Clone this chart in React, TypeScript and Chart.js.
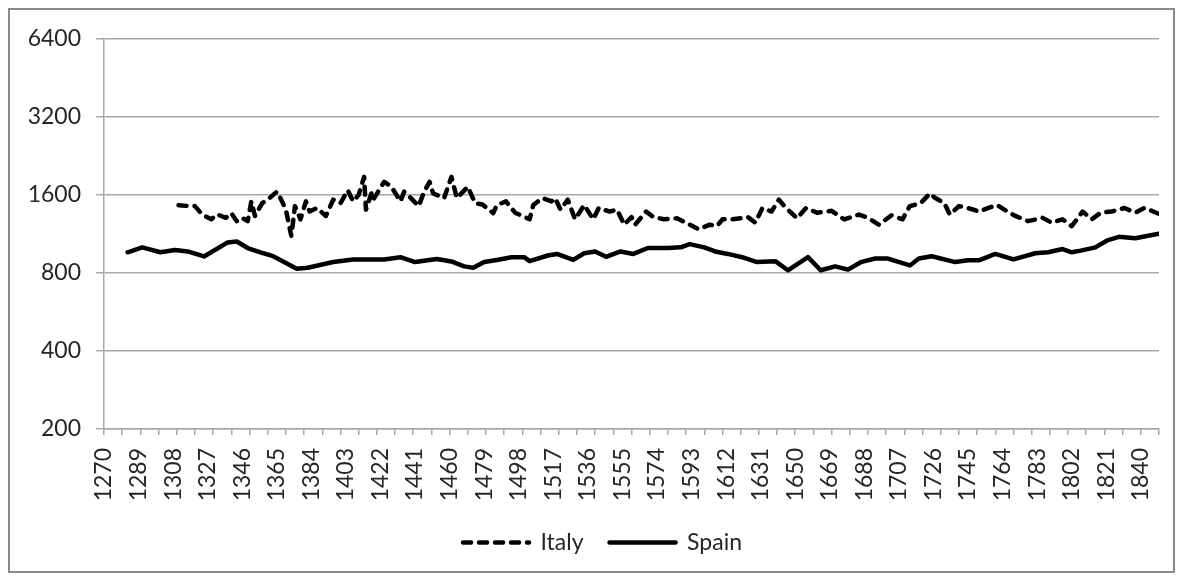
import React, { useEffect, useRef } from 'react';
import { Chart, registerables } from 'chart.js';

Chart.register(...registerables);

// Spain series (year, value)
const spainYears = [
  1283, 1291, 1301, 1309, 1316, 1325, 1338, 1343, 1349, 1356, 1363, 1376, 1382, 1396, 1407,
  1424, 1433, 1441, 1453, 1461, 1468, 1473, 1479, 1486, 1494, 1501, 1504, 1514, 1519, 1528,
  1534, 1540, 1546, 1554, 1561, 1569, 1580, 1587, 1592, 1600, 1606, 1613, 1622, 1629, 1639,
  1646, 1657, 1664, 1672, 1679, 1686, 1694, 1701, 1713, 1718, 1725, 1738, 1745, 1751, 1760,
  1770, 1782, 1789, 1797, 1802, 1807, 1815, 1822, 1828, 1837, 1844, 1850,
];
const spainValues = [
  961, 1004, 961, 981, 968, 926, 1049, 1058, 998, 961, 928, 831, 838, 881, 902,
  902, 920, 881, 906, 886, 848, 838, 881, 898, 920, 920, 888, 934, 947, 898,
  953, 968, 923, 968, 947, 998, 998, 1004, 1033, 1004, 968, 947, 915, 881, 888,
  819, 920, 819, 848, 824, 880, 909, 909, 855, 909, 928, 881, 895, 895, 947,
  902, 953, 961, 989, 961, 975, 1004, 1071, 1102, 1088, 1113, 1134,
];

// Italy series (year, value)
const italyYears = [
  1311, 1316, 1320, 1324, 1329, 1332, 1337, 1340, 1343, 1346, 1349, 1351, 1353, 1357, 1361,
  1365, 1367, 1370, 1372, 1373, 1375, 1378, 1381, 1383, 1387, 1392, 1396, 1400, 1404, 1407,
  1410, 1413, 1414, 1417, 1418, 1424, 1428, 1433, 1435, 1437, 1443, 1446, 1449, 1451, 1457,
  1461, 1464, 1470, 1474, 1478, 1484, 1486, 1491, 1496, 1504, 1506, 1511, 1516, 1518, 1521,
  1525, 1529, 1534, 1539, 1542, 1548, 1552, 1556, 1560, 1562, 1568, 1572, 1578, 1585, 1592,
  1597, 1603, 1607, 1610, 1615, 1620, 1624, 1628, 1632, 1637, 1641, 1645, 1651, 1656, 1662,
  1670, 1677, 1685, 1690, 1696, 1703, 1709, 1713, 1719, 1724, 1727, 1732, 1735, 1740, 1745,
  1751, 1756, 1761, 1765, 1771, 1778, 1786, 1791, 1797, 1802, 1808, 1813, 1818, 1824, 1831,
  1837, 1842, 1850,
];
const italyValues = [
  1460, 1450, 1448, 1343, 1288, 1347, 1305, 1360, 1267, 1305, 1267, 1510, 1327, 1487, 1555,
  1646, 1555, 1403, 1196, 1112, 1448, 1288, 1510, 1380, 1424, 1327, 1533, 1487, 1667, 1510,
  1600, 1877, 1403, 1620, 1533, 1796, 1720, 1510, 1646, 1600, 1448, 1646, 1796, 1620, 1555,
  1877, 1555, 1720, 1487, 1470, 1360, 1462, 1510, 1366, 1288, 1462, 1555, 1510, 1555, 1403,
  1533, 1288, 1462, 1288, 1424, 1380, 1403, 1228, 1314, 1228, 1380, 1314, 1288, 1300, 1228,
  1179, 1228, 1212, 1288, 1288, 1300, 1314, 1250, 1424, 1380, 1533, 1424, 1300, 1424, 1366,
  1389, 1288, 1343, 1305, 1228, 1335, 1288, 1448, 1487, 1620, 1555, 1487, 1343, 1448, 1424,
  1380, 1424, 1462, 1403, 1327, 1267, 1305, 1250, 1288, 1212, 1380, 1288, 1366, 1380, 1424,
  1366, 1424, 1352,
];

const yTickValues = [200, 400, 800, 1600, 3200, 6400];
const xLabelYears = [
  1270, 1289, 1308, 1327, 1346, 1365, 1384, 1403, 1422, 1441, 1460, 1479, 1498, 1517, 1536, 1555,
  1574, 1593, 1612, 1631, 1650, 1669, 1688, 1707, 1726, 1745, 1764, 1783, 1802, 1821, 1840,
];
const xTickMarkYears = [
  1270, 1280, 1290, 1300, 1310, 1320, 1330, 1340, 1350, 1360, 1370, 1380, 1390, 1400, 1410,
  1420, 1430, 1440, 1450, 1460, 1470, 1480, 1490, 1500, 1510, 1520, 1530, 1540, 1550, 1560,
  1570, 1580, 1590, 1600, 1610, 1620, 1630, 1640, 1650, 1660, 1670, 1680, 1690, 1700, 1710,
  1720, 1730, 1740, 1750, 1760, 1770, 1780, 1790, 1800, 1810, 1820, 1830, 1840, 1850,
];
const X_MIN = 1270;
const X_MAX = 1850;

const FONT = 'Lato, "Open Sans", sans-serif';
const TEXT = '#262626';
const GRID = '#a8a8a8';
const LINE_W = 4.5;
const FONT_SIZE = 23;

const legendShift = {
  id: 'legendShift',
  afterLayout(chart: any) {
    if (chart.legend) {
      chart.legend.left += 36;
    }
  },
};

export default function App() {
  const ref = useRef<HTMLCanvasElement>(null);

  useEffect(() => {
    if (!ref.current) return;
    const italy = italyYears.map((x, i) => ({ x, y: italyValues[i] }));
    const spain = spainYears.map((x, i) => ({ x, y: spainValues[i] }));
    const allXTicks = Array.from(new Set([...xTickMarkYears, ...xLabelYears])).sort((a, b) => a - b);

    const chart = new Chart(ref.current, {
      type: 'line',
      data: {
        datasets: [
          {
            label: 'Italy',
            data: italy,
            borderColor: '#000',
            backgroundColor: '#000',
            borderWidth: LINE_W,
            borderDash: [8, 8],
            borderCapStyle: 'round',
            borderJoinStyle: 'round',
            pointRadius: 0,
            tension: 0,
            fill: false,
          },
          {
            label: 'Spain',
            data: spain,
            borderColor: '#000',
            backgroundColor: '#000',
            borderWidth: LINE_W,
            borderCapStyle: 'round',
            borderJoinStyle: 'round',
            pointRadius: 0,
            tension: 0,
            fill: false,
          },
        ],
      },
      options: {
        responsive: false,
        maintainAspectRatio: false,
        animation: false,
        layout: { padding: { left: 0, right: 14, top: 27, bottom: 7 } },
        plugins: {
          legend: {
            position: 'bottom',
            labels: {
              usePointStyle: true,
              pointStyle: 'line',
              pointStyleWidth: 66,
              boxWidth: 66,
              padding: 26,
              color: TEXT,
              font: { family: FONT, size: FONT_SIZE },
              generateLabels: (c: any) => {
                const items = Chart.defaults.plugins.legend.labels.generateLabels(c);
                items.forEach((it: any, i: number) => {
                  const ds: any = c.data.datasets[i];
                  it.lineDash = ds.borderDash || [];
                  it.lineWidth = LINE_W;
                  it.strokeStyle = '#000';
                  it.lineCap = 'round';
                  it.pointStyle = 'line';
                });
                return items;
              },
            },
          },
          tooltip: { enabled: false },
        },
        scales: {
          x: {
            type: 'linear',
            min: X_MIN,
            max: X_MAX,
            afterBuildTicks: (s: any) => {
              s.ticks = allXTicks.map((v) => ({ value: v }));
            },
            afterFit: (s: any) => {
              s.height = 76;
              s.paddingLeft = 0;
              s.paddingRight = 0;
            },
            ticks: {
              autoSkip: false,
              minRotation: 90,
              maxRotation: 90,
              padding: 13,
              color: TEXT,
              font: { family: FONT, size: FONT_SIZE },
              callback: (v: any) => (xLabelYears.includes(Number(v)) ? String(v) : ''),
            },
            grid: {
              drawOnChartArea: false,
              drawTicks: true,
              tickLength: 6,
              lineWidth: 1.5,
              color: (ctx: any) =>
                ctx.tick && xTickMarkYears.includes(ctx.tick.value) ? GRID : 'rgba(0,0,0,0)',
            },
            border: { display: true, color: GRID, width: 1.5 },
          },
          y: {
            type: 'logarithmic',
            min: 200,
            max: 6400,
            afterBuildTicks: (s: any) => {
              s.ticks = yTickValues.map((v) => ({ value: v }));
            },
            afterFit: (s: any) => {
              s.width = 94;
            },
            ticks: {
              padding: 15,
              color: TEXT,
              font: { family: FONT, size: FONT_SIZE },
              callback: (v: any) => String(v),
            },
            grid: { color: GRID, lineWidth: 1.5, tickLength: 8 },
            border: { color: GRID, width: 1.5 },
          },
        },
      },
      plugins: [legendShift],
    } as any);

    return () => chart.destroy();
  }, []);

  return (
    <div
      style={{
        position: 'relative',
        width: 1167,
        height: 565,
        border: '2px solid #8a8a8a',
        boxSizing: 'border-box',
        background: '#fff',
      }}
    >
      <canvas ref={ref} width={1163} height={561} style={{ display: 'block' }} />
    </div>
  );
}
